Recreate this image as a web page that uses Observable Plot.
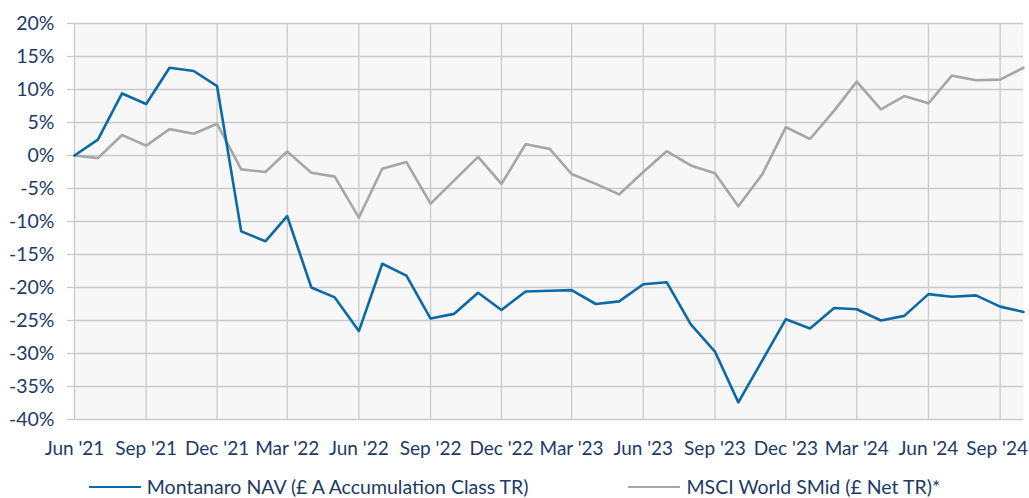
<!DOCTYPE html>
<html><head><meta charset="utf-8">
<script src="https://cdn.jsdelivr.net/npm/d3@7"></script>
<script src="https://cdn.jsdelivr.net/npm/@observablehq/plot@0.6"></script>
<style>
body{margin:0;background:#fff;font-family:Lato,sans-serif;color:#1b3a66;overflow:hidden}
#legend{display:flex;justify-content:center;align-items:center;gap:100px;font-size:19.5px;line-height:20px;height:20px;margin-top:18px;color:#1b3a66}
#legend .item{display:flex;align-items:center;gap:6px}
#legend .sw{width:52px;height:0;border-top:2.6px solid}
</style></head><body><div id="chart"></div><div id="legend"></div>
<script>
const startMonth = "2021-06-01";
const endMonth = "2024-10-01";
const seriesNames = ["Montanaro NAV (£ A Accumulation Class TR)", "MSCI World SMid (£ Net TR)*"];
const seriesColors = ["#0b69a3", "#a6a6a6"];
const montanaro = [0, 2.4, 9.4, 7.8, 13.3, 12.8, 10.5, -11.5, -13.0, -9.2,
  -20.0, -21.5, -26.6, -16.4, -18.2, -24.7, -24.0, -20.8, -23.4, -20.6,
  -20.5, -20.4, -22.5, -22.1, -19.5, -19.2, -25.6, -29.7, -37.4, -31.0,
  -24.8, -26.2, -23.1, -23.3, -25.0, -24.3, -21.0, -21.4, -21.2, -22.9, -23.7];
const msci = [0, -0.4, 3.1, 1.5, 4.0, 3.3, 4.8, -2.1, -2.5, 0.6,
  -2.6, -3.2, -9.4, -2.0, -1.0, -7.3, -3.8, -0.2, -4.3, 1.7,
  1.0, -2.8, -4.3, -5.9, -2.5, 0.65, -1.5, -2.7, -7.7, -2.8,
  4.3, 2.5, 6.8, 11.2, 7.0, 9.0, 7.9, 12.1, 11.4, 11.5, 13.3];
const yTicks = [-40, -35, -30, -25, -20, -15, -10, -5, 0, 5, 10, 15, 20];
const xTickMonths = ["2021-06-01","2021-09-01","2021-12-01","2022-03-01","2022-06-01","2022-09-01",
  "2022-12-01","2023-03-01","2023-06-01","2023-09-01","2023-12-01","2024-03-01","2024-06-01","2024-09-01"];

const months = d3.utcMonth.range(new Date(startMonth), d3.utcMonth.offset(new Date(endMonth), 1));
const xTicks = xTickMonths.map(d => new Date(d));
const x0 = months[0], x1 = months[months.length - 1];
const dataM = months.map((d, i) => ({date: d, value: months.length ? montanaro[i] : null}));
const dataS = months.map((d, i) => ({date: d, value: msci[i]}));
const textColor = "#1b3a66", gridColor = "#cacaca";
const xFmt = d3.utcFormat("%b '%y");

const chart = Plot.plot({
  width: 1029, height: 459,
  marginLeft: 74, marginRight: 6, marginTop: 23, marginBottom: 40,
  style: {fontFamily: "Lato, sans-serif", fontSize: "19.5px", color: textColor, background: "#fff"},
  x: {type: "utc", domain: [x0, x1]},
  y: {domain: [-40, 20]},
  marks: [
    Plot.frame({fill: "#f7f7f7", stroke: null}),
    Plot.ruleY(yTicks, {x1: x0, x2: x1, stroke: gridColor, strokeWidth: 1.3}),
    Plot.ruleX(xTicks, {y1: -40, y2: 20, stroke: gridColor, strokeWidth: 1.3}),
    Plot.axisY({ticks: yTicks, tickFormat: d => d + "%", tickSize: 7, tickPadding: 13,
      stroke: gridColor, strokeWidth: 1.3, fill: textColor, label: null}),
    Plot.axisX({ticks: xTicks.slice(0, -1), tickFormat: xFmt, tickSize: 0, tickPadding: 22,
      fill: textColor, fontSize: 19, label: null}),
    Plot.axisX({ticks: xTicks.slice(-1), tickFormat: xFmt, tickSize: 0, tickPadding: 22,
      fill: textColor, fontSize: 19, dx: -3, label: null}),
    Plot.line(dataS, {x: "date", y: "value", stroke: seriesColors[1], strokeWidth: 2.6}),
    Plot.line(dataM, {x: "date", y: "value", stroke: seriesColors[0], strokeWidth: 2.6})
  ]
});
document.getElementById("chart").append(chart);

const legend = document.getElementById("legend");
seriesNames.forEach((n, i) => {
  const it = document.createElement("div"); it.className = "item";
  const sw = document.createElement("span"); sw.className = "sw"; sw.style.borderColor = seriesColors[i];
  const t = document.createElement("span"); t.textContent = n;
  it.append(sw, t); legend.append(it);
});
</script></body></html>
